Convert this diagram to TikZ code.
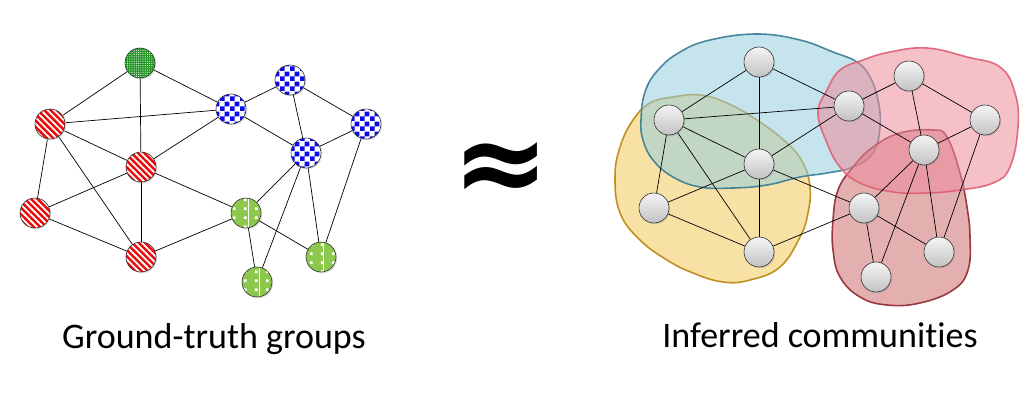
\documentclass[tikz,border=0pt]{standalone}
\usepackage{fontspec}
\setmainfont{Carlito}[Ligatures=NoCommon]
\newfontfamily\symfont{DejaVu Sans}
\usetikzlibrary{shadows,patterns,patterns.meta}

\pgfdeclarepatternformonly{mychecker}{\pgfpointorigin}{\pgfqpoint{10pt}{10pt}}{\pgfqpoint{10pt}{10pt}}{%
  \pgfpathrectangle{\pgfpointorigin}{\pgfqpoint{5pt}{5pt}}%
  \pgfpathrectangle{\pgfqpoint{5pt}{5pt}}{\pgfqpoint{5pt}{5pt}}%
  \pgfusepath{fill}}
\pgfdeclarepatternformonly{mysquares}{\pgfpointorigin}{\pgfqpoint{11pt}{9pt}}{\pgfqpoint{11pt}{9pt}}{%
  \pgfpathrectangle{\pgfqpoint{2pt}{2pt}}{\pgfqpoint{3pt}{3pt}}%
  \pgfusepath{fill}}

\definecolor{redfill}{RGB}{235,10,10}
\definecolor{bluefill}{RGB}{10,10,235}
\definecolor{dkgreen}{RGB}{35,150,35}
\definecolor{ltgreen}{RGB}{140,200,75}
\definecolor{blueblob}{RGB}{150,205,222}
\definecolor{blueline}{RGB}{55,125,150}
\definecolor{yelblob}{RGB}{242,200,90}
\definecolor{yelline}{RGB}{185,135,15}
\definecolor{pinkblob}{RGB}{236,140,155}
\definecolor{pinkline}{RGB}{222,95,115}
\definecolor{redblob}{RGB}{205,110,110}
\definecolor{redline}{RGB}{145,40,50}

\pgfdeclarelayer{blobs}
\pgfdeclarelayer{edges}
\pgfsetlayers{blobs,edges,main}

\tikzset{
  basenode/.style={circle, minimum size=30pt, inner sep=0pt, draw=black!80, line width=0.6pt,
    drop shadow={opacity=0.25, shadow xshift=1.2pt, shadow yshift=-1.2pt}},
  rednode/.style={basenode, preaction={fill=redfill},
    pattern={Lines[angle=-45,distance=4.5pt,line width=1.8pt]}, pattern color=white},
  bluenode/.style={basenode, preaction={fill=white}, pattern=mychecker, pattern color=bluefill},
  topgreen/.style={basenode, preaction={fill=dkgreen},
    pattern={Dots[distance=2.2pt, radius=0.55pt]}, pattern color=white},
  greennode/.style={basenode, preaction={fill=ltgreen}, pattern=mysquares, pattern color=white,
    path picture={\draw[white, line width=0.9pt]
      ([xshift=2pt]path picture bounding box.north) -- ([xshift=2pt]path picture bounding box.south);}},
  graynode/.style={basenode, top color=gray!8, bottom color=gray!48},
  edge/.style={draw=black, line width=0.7pt},
  blob/.style={line width=1.6pt, fill opacity=0.55, draw opacity=0.9},
  caption/.style={anchor=base, inner sep=0pt, font=\fontsize{36}{40}\selectfont},
}

\begin{document}
\begin{tikzpicture}[x=1pt, y=-1pt]
\useasboundingbox (0,0) rectangle (1032,400);

% ---------- left graph ----------
\node[topgreen] (lg)  at (140,63)  {};
\node[bluenode] (lb1) at (290,80)  {};
\node[bluenode] (lb2) at (231,109) {};
\node[bluenode] (lb3) at (366,124) {};
\node[bluenode] (lb4) at (306,153) {};
\node[rednode]  (lr1) at (50,124)  {};
\node[rednode]  (lr2) at (141,167) {};
\node[rednode]  (lr3) at (35,213)  {};
\node[rednode]  (lr4) at (141,257) {};
\node[greennode] (lg1) at (246,213) {};
\node[greennode] (lg2) at (321,257) {};
\node[greennode] (lg3) at (257,282) {};

% ---------- right graph ----------
\node[graynode] (rg)  at (759,62)  {};
\node[graynode] (rb1) at (909,76)  {};
\node[graynode] (rb2) at (849,106) {};
\node[graynode] (rb3) at (985,120) {};
\node[graynode] (rb4) at (924,150) {};
\node[graynode] (rr1) at (669,120) {};
\node[graynode] (rr2) at (759,164) {};
\node[graynode] (rr3) at (654,208) {};
\node[graynode] (rr4) at (759,252) {};
\node[graynode] (rg1) at (864,208) {};
\node[graynode] (rg2) at (939,252) {};
\node[graynode] (rg3) at (876,277) {};

\begin{pgfonlayer}{edges}
\foreach \p in {l,r}{
  \foreach \a/\b in {g/r1, g/r2, g/b2, r1/b2, r1/r2, r1/r3, r1/r4, r2/b2, r2/r3, r2/r4, r2/g1,
                     r3/r4, r4/g1, b2/b1, b2/b4, b1/b3, b1/b4, b4/b3, b4/g1, b4/g3, b4/g2,
                     b3/g2, g1/g3, g1/g2}{
    \draw[edge] (\p\a) -- (\p\b);
  }
}
\end{pgfonlayer}

\begin{pgfonlayer}{blobs}
% yellow
\draw[blob, draw=yelline, fill=yelblob] plot[smooth cycle, tension=0.7] coordinates {
  (615,177) (620,147) (633,120) (650,103) (673,97) (700,95) (727,103) (757,120) (787,143)
  (803,163) (810,187) (808,213) (800,237) (780,267) (750,280) (723,282) (693,273) (667,260)
  (640,240) (620,213)};
% blue
\draw[blob, draw=blueline, fill=blueblob] plot[smooth cycle, tension=0.7] coordinates {
  (641,120) (645,92) (658,70) (680,52) (710,40) (757,34) (800,40) (833,52) (857,62) (870,77)
  (878,100) (880,127) (873,153) (853,167) (827,173) (800,177) (767,185) (733,188) (700,187)
  (673,177) (653,160) (643,140)};
% dark red
\draw[blob, draw=redline, fill=redblob] plot[smooth cycle, tension=0.7] coordinates {
  (833,220) (838,190) (853,167) (873,147) (900,133) (933,130) (947,137) (960,173) (967,207)
  (970,237) (968,270) (953,290) (920,303) (887,305) (860,297) (840,277) (833,250)};
% pink
\draw[blob, draw=pinkline, fill=pinkblob] plot[smooth cycle, tension=0.7] coordinates {
  (818,113) (827,90) (840,70) (863,60) (890,52) (927,48) (967,57) (1000,67) (1015,93)
  (1018,127) (1010,167) (993,183) (960,190) (927,193) (893,192) (860,183) (840,167) (827,143)};
\end{pgfonlayer}

% ---------- approx sign and captions ----------
\node[inner sep=0pt, font=\symfont\bfseries\fontsize{116}{116}\selectfont] (approx) at (501,173) {≈};
\node[caption] (lcap) at (214,348) {Ground-truth groups};
\node[caption] (rcap) at (820,347) {Inferred communities};
\end{tikzpicture}
\end{document}
